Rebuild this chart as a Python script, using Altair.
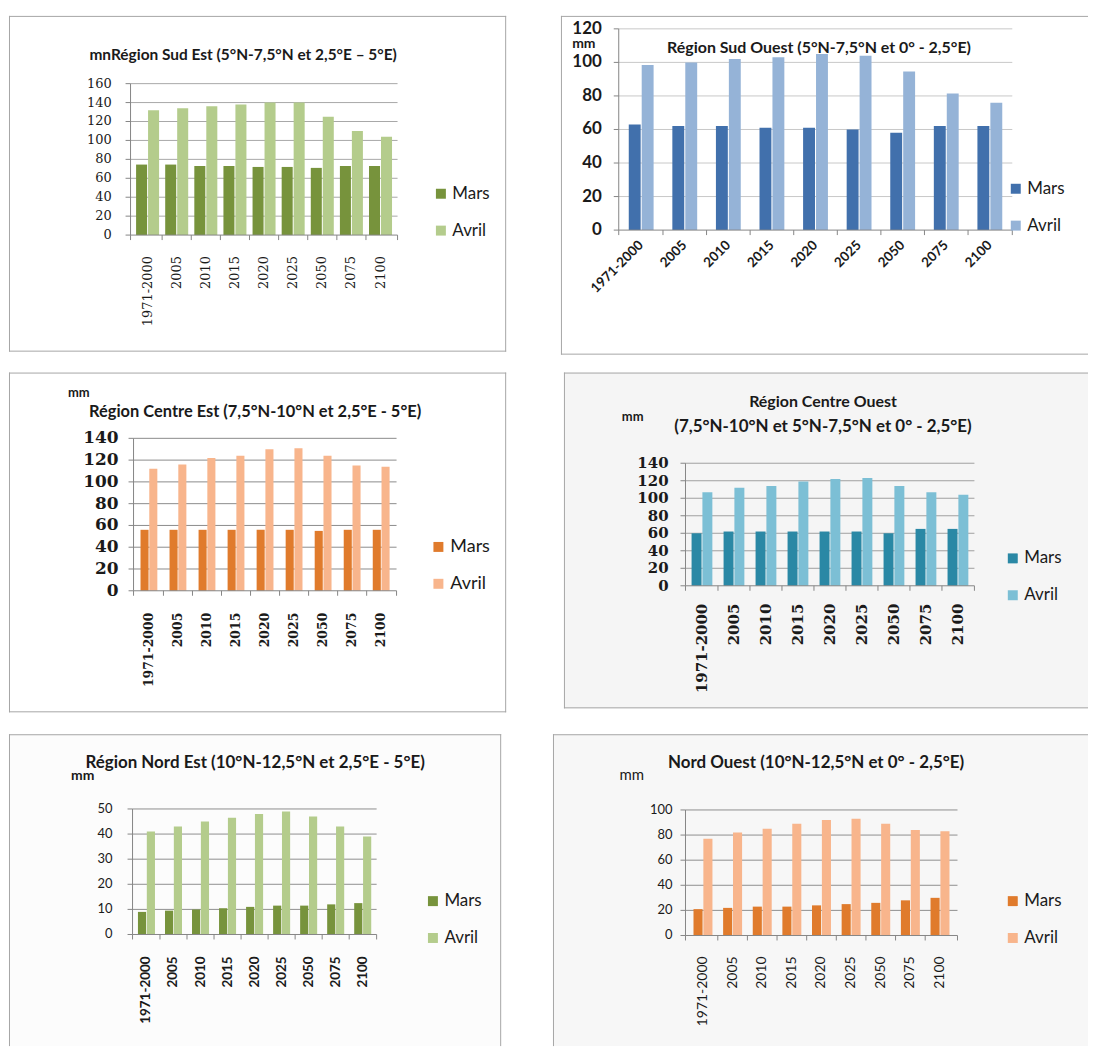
import altair as alt
import pandas as pd

periods = ["1971-2000", "2005", "2010", "2015", "2020", "2025", "2050", "2075", "2100"]
months = ["Mars", "Avril"]

se_mars = [74.5, 74.5, 73, 73, 72, 72, 71, 73, 73]
se_avril = [132, 134, 136, 138, 140, 140, 125, 110, 104]
so_mars = [63, 62, 62, 61, 61, 60, 58, 62, 62]
so_avril = [98.5, 100, 102, 103, 105, 104, 94.5, 81.5, 76]
ce_mars = [56, 56, 56, 56, 56, 56, 55, 56, 56]
ce_avril = [112, 116, 122, 124, 130, 131, 124, 115, 114]
co_mars = [60, 62, 62, 62, 62, 62, 60, 65, 65]
co_avril = [107, 112, 114, 119, 122, 123, 114, 107, 104]
ne_mars = [9, 9.5, 10, 10.5, 11, 11.5, 11.5, 12, 12.5]
ne_avril = [41, 43, 45, 46.5, 48, 49, 47, 43, 39]
no_mars = [21, 22, 23, 23, 24, 25, 26, 28, 30]
no_avril = [77, 82, 85, 89, 92, 93, 89, 84, 83]

se_ticks = [0, 20, 40, 60, 80, 100, 120, 140, 160]
so_ticks = [0, 20, 40, 60, 80, 100, 120]
ce_ticks = [0, 20, 40, 60, 80, 100, 120, 140]
co_ticks = [0, 20, 40, 60, 80, 100, 120, 140]
ne_ticks = [0, 10, 20, 30, 40, 50]
no_ticks = [0, 20, 40, 60, 80, 100]

se_title = ["mnRégion Sud Est (5°N-7,5°N et  2,5°E – 5°E)"]
so_title = ["Région Sud Ouest (5°N-7,5°N et  0° - 2,5°E)"]
ce_title = ["Région Centre Est (7,5°N-10°N et  2,5°E - 5°E)"]
co_title = ["Région Centre Ouest", "(7,5°N-10°N et  5°N-7,5°N et  0° - 2,5°E)"]
ne_title = ["Région Nord Est (10°N-12,5°N et  2,5°E - 5°E)"]
no_title = ["Nord Ouest (10°N-12,5°N et  0° - 2,5°E)"]
unit = "mm"

GREEN = ["#77933C", "#B4CC8C"]
BLUE = ["#4170AC", "#95B3D7"]
ORANGE = ["#E07B2C", "#F8B58C"]
TEAL = ["#2A88A5", "#7CBFD5"]
FRAME = "#a6a6a6"
AXIS = "#868686"
TXT = "#1a1a1a"
ONE = pd.DataFrame({"k": [0]})


def vrule(x1, x2, y1, y2, color, width=1):
    return alt.Chart(ONE).mark_rule(color=color, strokeWidth=width).encode(
        x=alt.value(x1), x2=alt.value(x2), y=alt.value(y1), y2=alt.value(y2)
    )


def panel(c):
    FW, FH = c["box"]          # whole panel box
    L, T = c["origin"]         # plot-area offset inside the box
    W, H = c["plot"]           # plot-area size
    df = pd.DataFrame({
        "periode": periods * 2,
        "mois": ["Mars"] * 9 + ["Avril"] * 9,
        "mm": list(c["mars"]) + list(c["avril"]),
    })
    per_df = pd.DataFrame({"periode": periods})
    ticks_df = pd.DataFrame({"v": c["ticks"]})
    yscale = alt.Scale(domain=[c["ticks"][0], c["ticks"][-1]], nice=False, zero=True, range=[T + H, T])
    xscale = alt.Scale(paddingInner=c["pi"], paddingOuter=c["po"], range=[L, L + W])
    step = W / (len(periods) - c["pi"] + 2 * c["po"])
    half_gap = c["pi"] * step / 2
    yf = c["yfont"]
    xf = c["xfont"]

    layers = [
        alt.Chart(ONE).mark_rect(fill=c["bg"], strokeWidth=0).encode(
            x=alt.value(0), x2=alt.value(FW), y=alt.value(0), y2=alt.value(FH)
        )
    ]
    edges = {
        "top": (0, FW, 0.5, 0.5),
        "bottom": (0, FW, FH - 0.5, FH - 0.5),
        "left": (0.5, 0.5, 0, FH),
        "right": (FW - 0.5, FW - 0.5, 0, FH),
    }
    for s in c["sides"]:
        layers.append(vrule(*edges[s], FRAME))
    # horizontal gridlines
    layers.append(
        alt.Chart(ticks_df[ticks_df["v"] > 0]).mark_rule(color=c["grid"], strokeWidth=1).encode(
            y=alt.Y("v:Q", scale=yscale, axis=None), x=alt.value(L), x2=alt.value(L + W)
        )
    )
    # bars
    layers.append(
        alt.Chart(df).mark_bar().encode(
            x=alt.X("periode:N", sort=periods, scale=xscale, axis=None),
            xOffset=alt.XOffset("mois:N", sort=months, scale=alt.Scale(paddingInner=0.08)),
            y=alt.Y("mm:Q", scale=yscale, axis=None),
            color=alt.Color(
                "mois:N", scale=alt.Scale(domain=months, range=c["colors"]),
                legend=alt.Legend(
                    orient="none", legendX=L + c["leg"][0], legendY=T + c["leg"][1], title=None,
                    symbolType="square", symbolSize=100, symbolStrokeWidth=0,
                    labelFont="Lato", labelFontSize=c["legfont"], labelColor=TXT,
                    rowPadding=c["legrow"], labelOffset=3,
                ),
            ),
        )
    )
    # y axis: line, ticks, labels
    layers.append(vrule(L, L, T, T + H, AXIS))
    layers.append(
        alt.Chart(ticks_df).mark_rule(color=AXIS, strokeWidth=1).encode(
            y=alt.Y("v:Q", scale=yscale, axis=None), x=alt.value(L - 5), x2=alt.value(L)
        )
    )
    layers.append(
        alt.Chart(ticks_df).mark_text(
            font=yf[0], fontSize=yf[1], fontWeight=yf[2], color=TXT, align="right", baseline="middle",
        ).encode(
            y=alt.Y("v:Q", scale=yscale, axis=None),
            x=alt.value(L - 5 - c["ypad"]),
            text=alt.Text("v:Q", format="d"),
        )
    )
    # x axis: line, ticks between categories, labels
    layers.append(vrule(L, L + W, T + H, T + H, AXIS))
    layers.append(vrule(L, L, T + H, T + H + 5, AXIS))
    layers.append(vrule(L + W, L + W, T + H, T + H + 5, AXIS))
    layers.append(
        alt.Chart(pd.DataFrame({"periode": periods[1:]})).mark_rule(
            color=AXIS, strokeWidth=1, xOffset=-half_gap
        ).encode(
            x=alt.X("periode:N", sort=periods, scale=xscale, axis=None, bandPosition=0),
            y=alt.value(T + H), y2=alt.value(T + H + 5),
        )
    )
    layers.append(
        alt.Chart(per_df).mark_text(
            font=xf[0], fontSize=xf[1], fontWeight=xf[2], color=TXT,
            angle=c["angle"], align="right", baseline="middle",
        ).encode(
            x=alt.X("periode:N", sort=periods, scale=xscale, axis=None, bandPosition=0.5),
            y=alt.value(T + H + 5 + c["xpad"]),
            text="periode:N",
        )
    )
    # titles and unit
    for text, (tx, ty, size, weight) in zip(c["title"], c["tpos"]):
        layers.append(
            alt.Chart(ONE).mark_text(
                text=text, font="Lato", fontSize=size, fontWeight=weight,
                color=TXT, align="center", baseline="middle",
            ).encode(x=alt.value(L + tx), y=alt.value(T + ty))
        )
    if c.get("mm"):
        mx, my, ms, mw = c["mm"]
        layers.append(
            alt.Chart(ONE).mark_text(
                text=unit, font="Lato", fontSize=ms, fontWeight=mw,
                color=TXT, align="center", baseline="middle",
            ).encode(x=alt.value(L + mx), y=alt.value(T + my))
        )
    return alt.layer(*layers).properties(width=FW, height=FH)


p1 = panel(dict(
    box=(499, 337), origin=(122, 68), plot=(268, 152), sides=["top", "left", "right", "bottom"], bg="#ffffff",
    mars=se_mars, avril=se_avril, ticks=se_ticks, colors=GREEN, grid="#a8a8a8",
    pi=0.21, po=0.19, angle=270, xfont=("DejaVu Serif", 13, "normal"), xpad=16,
    yfont=("DejaVu Serif", 13, "normal"), ypad=14,
    title=se_title, tpos=[(113, -29, 15.5, "bold")], leg=(303, 102), legfont=17, legrow=19,
))
p2 = panel(dict(
    box=(529, 340), origin=(58, 13), plot=(395, 202), sides=["top", "left", "bottom"], bg="#ffffff",
    mars=so_mars, avril=so_avril, ticks=so_ticks, colors=BLUE, grid="#c8c8c8",
    pi=0.43, po=0.23, angle=315, xfont=("Lato", 13.5, "bold"), xpad=8,
    yfont=("Lato", 17, "bold"), ypad=12,
    title=so_title, tpos=[(201, 19, 16, "bold")], mm=(-35, 15, 14, "bold"),
    leg=(390, 152), legfont=17, legrow=19,
))
p3 = panel(dict(
    box=(499, 341), origin=(125, 66), plot=(264, 153), sides=["top", "left", "right", "bottom"], bg="#ffffff",
    mars=ce_mars, avril=ce_avril, ticks=ce_ticks, colors=ORANGE, grid="#8c8c8c",
    pi=0.42, po=0.24, angle=270, xfont=("DejaVu Serif", 12.5, "bold"), xpad=17,
    yfont=("DejaVu Serif", 17, "bold"), ypad=10,
    title=ce_title, tpos=[(122, -26, 16.5, "bold")], mm=(-55, -45, 13, "bold"),
    leg=(297, 100), legfont=18, legrow=19,
))
p4 = panel(dict(
    box=(526, 337), origin=(122, 91), plot=(290, 123), sides=["top", "left", "bottom"], bg="#f5f5f5",
    mars=co_mars, avril=co_avril, ticks=co_ticks, colors=TEAL, grid="#a0a0a0",
    pi=0.35, po=0.19, angle=270, xfont=("DejaVu Serif", 15, "bold"), xpad=13,
    yfont=("DejaVu Serif", 15, "bold"), ypad=12,
    title=co_title, tpos=[(138, -61, 16, "bold"), (138, -36, 17, "bold")], mm=(-53, -46, 13, "bold"),
    leg=(320, 87), legfont=17, legrow=19,
))
p5 = panel(dict(
    box=(494, 313), origin=(124, 75), plot=(245, 126), sides=["top", "left", "right"], bg="#fcfcfc",
    mars=ne_mars, avril=ne_avril, ticks=ne_ticks, colors=GREEN, grid="#8f8f8f",
    pi=0.37, po=0.2, angle=270, xfont=("Lato", 13.5, "bold"), xpad=17,
    yfont=("Lato", 13, "normal"), ypad=15,
    title=ne_title, tpos=[(123, -46, 17, "bold")], mm=(-50, -33, 14, "bold"),
    leg=(293, 84), legfont=17, legrow=19,
))
p6 = panel(dict(
    box=(537, 313), origin=(133, 76), plot=(273, 126), sides=["top", "left"], bg="#f7f7f7",
    mars=no_mars, avril=no_avril, ticks=no_ticks, colors=ORANGE, grid="#8f8f8f",
    pi=0.36, po=0.27, angle=270, xfont=("Lato", 14, "normal"), xpad=16,
    yfont=("Lato", 13, "normal"), ypad=8,
    title=no_title, tpos=[(131, -47, 17, "bold")], mm=(-54, -35, 15, "normal"),
    leg=(320, 83), legfont=17, legrow=19,
))

res = dict(color="independent", y="independent", x="independent", xOffset="independent")
row1 = alt.hconcat(p1, p2, spacing=53).resolve_scale(**res).resolve_legend(color="independent")
row2 = alt.hconcat(p3, p4, spacing=56).resolve_scale(**res).resolve_legend(color="independent")
row3 = alt.hconcat(p5, p6, spacing=50).resolve_scale(**res).resolve_legend(color="independent")

top_rows = (
    alt.vconcat(row1, row2, spacing=16)
    .resolve_scale(**res)
    .resolve_legend(color="independent")
)

chart = (
    alt.vconcat(top_rows, row3, spacing=20)
    .resolve_scale(**res)
    .resolve_legend(color="independent")
    .properties(padding={"left": 0, "top": 5, "right": 0, "bottom": 0})
    .configure_view(stroke=None)
)

chart.save("out.html", embed_options={"renderer": "svg", "actions": False})
